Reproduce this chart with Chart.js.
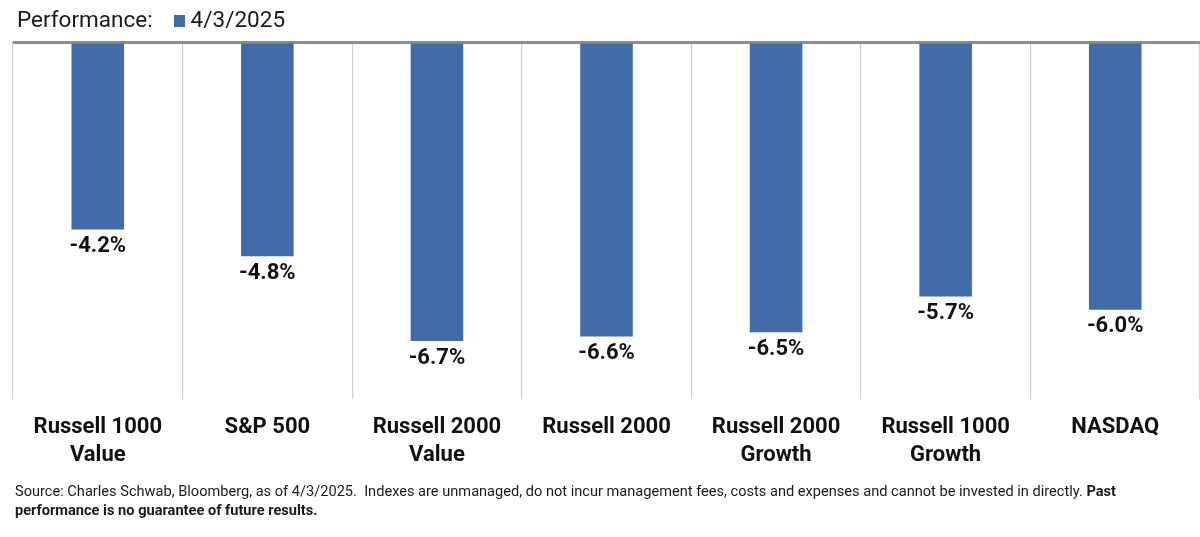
<!DOCTYPE html>
<html>
<head>
<meta charset="utf-8">
<script src="https://cdn.jsdelivr.net/npm/chart.js@4"></script>
<style>
  body { margin: 0; background: #fff; width: 1200px; height: 537px; overflow: hidden; font-family: Roboto, 'Noto Sans', sans-serif; color: #1a1a1a; }
  .head { position: absolute; left: 17px; top: 6px; font-size: 22.5px; white-space: nowrap; }
  .head .sw { display: inline-block; width: 11px; height: 12px; background: #416ba9; margin: 0 6px 0 21px; }
  .wrap { position: absolute; left: 0; top: 0; width: 1200px; height: 483px; }
  .foot { position: absolute; left: 15px; top: 482px; width: 1128px; font-size: 14.6px; line-height: 19px; }
</style>
</head>
<body>
<div class="wrap"><canvas id="c"></canvas></div>
<div class="head">Performance:<span class="sw"></span>4/3/2025</div>
<div class="foot">Source: Charles Schwab, Bloomberg, as of 4/3/2025.&nbsp; Indexes are unmanaged, do not incur management fees, costs and expenses and cannot be invested in directly. <b>Past performance is no guarantee of future results.</b></div>
<script>
const categories = [
  ['Russell 1000', 'Value'],
  'S&P 500',
  ['Russell 2000', 'Value'],
  'Russell 2000',
  ['Russell 2000', 'Growth'],
  ['Russell 1000', 'Growth'],
  'NASDAQ',
];
const performance = [-4.2, -4.8, -6.7, -6.6, -6.5, -5.7, -6.0];
const seriesLabel = '4/3/2025';

const barColor = '#416ba9';

// value labels under each bar end
const valueLabels = {
  id: 'valueLabels',
  afterDatasetsDraw(chart) {
    const { ctx } = chart;
    const meta = chart.getDatasetMeta(0);
    ctx.save();
    ctx.font = 'bold 22px Roboto, sans-serif';
    ctx.fillStyle = '#111';
    ctx.textAlign = 'center';
    ctx.textBaseline = 'middle';
    meta.data.forEach((bar, i) => {
      ctx.fillText(performance[i].toFixed(1) + '%', bar.x, bar.y + 17);
    });
    ctx.restore();
  },
};

new Chart(document.getElementById('c'), {
  type: 'bar',
  data: {
    labels: categories,
    datasets: [{
      label: seriesLabel,
      data: performance,
      backgroundColor: barColor,
      borderWidth: 0,
      categoryPercentage: 1,
      barPercentage: 0.31,
    }],
  },
  options: {
    responsive: true,
    maintainAspectRatio: false,
    animation: false,
    layout: { padding: { left: 13, right: 0, top: 42, bottom: 0 } },
    plugins: { legend: { display: false }, tooltip: { enabled: false } },
    scales: {
      x: {
        offset: true,
        grid: { offset: true, color: '#cfcfcf', lineWidth: 1.2, drawTicks: false },
        border: { display: false },
        ticks: { color: '#111', padding: 14, font: { family: 'Roboto', weight: 'bold', size: 22, lineHeight: 1.27 } },
      },
      y: {
        min: -8,
        max: 0,
        ticks: { display: false, stepSize: 1 },
        border: { display: false },
        grid: {
          drawTicks: false,
          color: (ctx) => (ctx.tick && ctx.tick.value === 0 ? '#8c8c8c' : 'rgba(0,0,0,0)'),
          lineWidth: (ctx) => (ctx.tick && ctx.tick.value === 0 ? 3 : 0),
        },
      },
    },
  },
  plugins: [valueLabels],
});
</script>
</body>
</html>
